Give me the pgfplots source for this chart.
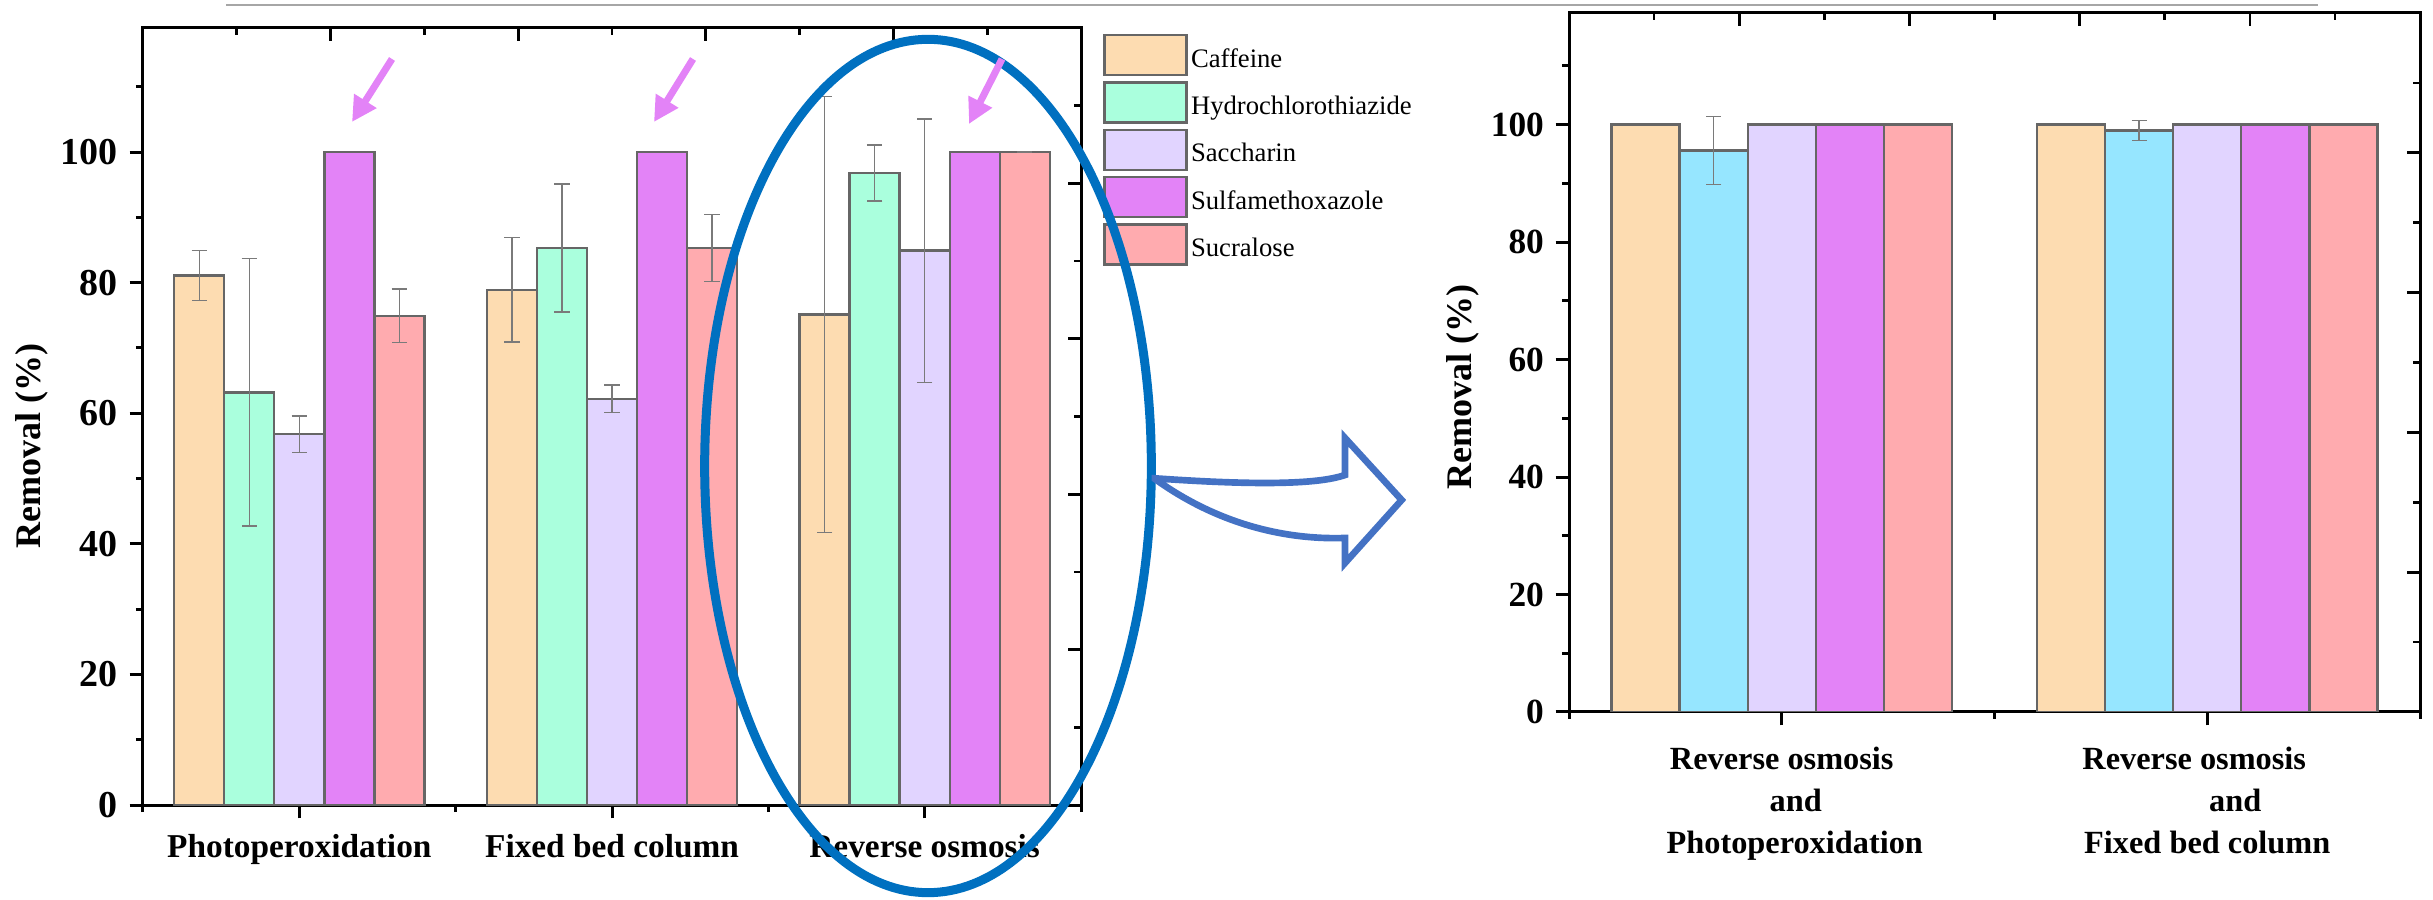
\documentclass[border=0pt]{standalone}
\usepackage{pgfplots}
\pgfplotsset{compat=1.18}
\usepackage{pgfplotstable}
\usepackage{fontspec}
\setmainfont{Liberation Serif}
\usetikzlibrary{arrows.meta}
\definecolor{caf}{HTML}{FDDCB1}
\definecolor{hct}{HTML}{AAFFDD}
\definecolor{hctb}{HTML}{96E6FF}
\definecolor{sac}{HTML}{E1D4FF}
\definecolor{sul}{HTML}{E383F7}
\definecolor{suc}{HTML}{FFABAF}
\definecolor{edge}{HTML}{666666}
\definecolor{errc}{HTML}{7A7A7A}
\definecolor{ellc}{HTML}{0070C0}
\definecolor{arrc}{HTML}{4472C4}
\definecolor{pinkarr}{HTML}{E383F7}

% left chart data: x, removal, error
\pgfplotstableread{
x y e
0 81.1 3.8
1 78.9 8.0
2 75.1 33.4
}\lcaf
\pgfplotstableread{
x y e
0 63.2 20.5
1 85.3 9.8
2 96.8 4.3
}\lhct
\pgfplotstableread{
x y e
0 56.8 2.8
1 62.2 2.1
2 84.9 20.2
}\lsac
\pgfplotstableread{
x y e
0 100 0
1 100 0
2 100 0
}\lsul
\pgfplotstableread{
x y e
0 74.9 4.1
1 85.3 5.1
2 100 0
}\lsuc
% right chart data
\pgfplotstableread{
x y e
0 100 0
1 100 0
}\rcaf
\pgfplotstableread{
x y e
0 95.6 5.8
1 99.0 1.7
}\rhct
\pgfplotstableread{
x y e
0 100 0
1 100 0
}\rsac
\pgfplotstableread{
x y e
0 100 0
1 100 0
}\rsul
\pgfplotstableread{
x y e
0 100 0
1 100 0
}\rsuc

\pgfplotsset{
  ybar legend/.style={legend image code/.code={\draw[##1] (0pt,-4.4pt) rectangle (24.6pt,7.6pt);}},
  barchart/.style={
    scale only axis, ybar, bar width=0.16, ymin=0, ymax=119,
    axis line style={line width=0.9pt, black},
    tick style={black, line width=0.9pt},
    tick align=outside, xtick pos=left, ytick pos=left,
    major tick length=4pt, minor tick length=2.1pt,
    ytick={0,20,...,100}, minor ytick={10,30,...,110},
    /pgf/number format/assume math mode=true,
    yticklabel style={font=\fontsize{11.4}{12}\selectfont\bfseries},
    xticklabel style={font=\fontsize{10}{12.6}\selectfont\bfseries, align=center},
    ylabel={Removal (\%)},
    ylabel style={font=\fontsize{10.8}{12}\selectfont\bfseries, anchor=center},
    every axis plot/.append style={draw=edge, line width=0.7pt},
  },
  errs/.style={error bars/.cd, y dir=both, y explicit,
    error bar style={line width=0.45pt, errc},
    error mark options={rotate=90, mark size=2.3pt, line width=0.45pt, errc}},
  overlayticks/.style={scale only axis, xmin=0, xmax=1, ymin=0, ymax=1,
    axis line style={draw=none}, xtick pos=right, ytick pos=right, tick align=inside,
    xtick={0.2,0.4,0.6,0.8}, minor xtick={0.1,0.3,0.5,0.7,0.9},
    ytick={0.2,0.4,0.6,0.8}, minor ytick={0.1,0.3,0.5,0.7,0.9},
    xticklabels={}, yticklabels={},
    major tick length=4pt, minor tick length=2pt,
    tick style={black, line width=0.8pt}},
}

\begin{document}
\begin{tikzpicture}
\path[use as bounding box] (0pt,0pt) rectangle (729.9pt,270pt);

% thin gray rule at the top
\draw[line width=0.6pt, color=black!35] (67.8pt,268.5pt) -- (695.4pt,268.5pt);

% ---------- left chart ----------
\begin{axis}[barchart,
  at={(42.9pt,28.5pt)}, anchor=south west, width=281.4pt, height=233.1pt,
  xmin=-0.5, xmax=2.5,
  xtick={0,1,2}, minor xtick={-0.5,0.5,1.5,2.5},
  xticklabels={Photoperoxidation, Fixed bed column, Reverse osmosis},
  xticklabel style={yshift=-1.2pt},
  ylabel style={at={(axis description cs:-0.118,0.462)}},
  legend style={at={(axis description cs:1,1)}, anchor=north west, xshift=6.5pt, yshift=-1.6pt,
    draw=none, fill=none, inner sep=0pt, row sep=1.5pt,
    font=\fontsize{8}{9.6}\selectfont, nodes={inner sep=1pt}},
  legend cell align=left,
]
\addplot[fill=caf, bar shift=-0.32, errs] table[x=x, y=y, y error=e] {\lcaf};
\addlegendentry{Caffeine}
\addplot[fill=hct, bar shift=-0.16, errs] table[x=x, y=y, y error=e] {\lhct};
\addlegendentry{Hydrochlorothiazide}
\addplot[fill=sac, bar shift=0, errs] table[x=x, y=y, y error=e] {\lsac};
\addlegendentry{Saccharin}
\addplot[fill=sul, bar shift=0.16] table[x=x, y=y] {\lsul};
\addlegendentry{Sulfamethoxazole}
\addplot[fill=suc, bar shift=0.32, errs] table[x=x, y=y, y error=e] {\lsuc};
\addlegendentry{Sucralose}
\end{axis}
\begin{axis}[overlayticks, at={(42.9pt,28.5pt)}, anchor=south west, width=281.4pt, height=233.1pt]
\end{axis}

% ---------- right chart ----------
\begin{axis}[barchart,
  at={(470.7pt,56.4pt)}, anchor=south west, width=255.3pt, height=209.7pt,
  xmin=-0.5, xmax=1.5,
  xtick={0,1}, minor xtick={-0.5,0.5,1.5},
  xticklabels={{Reverse osmosis\\\hspace*{8.4pt}and\\\hspace*{7.8pt}Photoperoxidation},
               {Reverse osmosis\hspace*{7.8pt}\\\hspace*{16.8pt}and\\Fixed bed column}},
  xticklabel style={font=\fontsize{9.7}{12.6}\selectfont\bfseries, yshift=-3pt},
  yticklabel style={font=\fontsize{10.6}{12}\selectfont\bfseries},
  ylabel style={at={(axis description cs:-0.1246,0.465)}},
]
\addplot[fill=caf, bar shift=-0.32] table[x=x, y=y] {\rcaf};
\addplot[fill=hctb, bar shift=-0.16, errs] table[x=x, y=y, y error=e] {\rhct};
\addplot[fill=sac, bar shift=0] table[x=x, y=y] {\rsac};
\addplot[fill=sul, bar shift=0.16] table[x=x, y=y] {\rsul};
\addplot[fill=suc, bar shift=0.32] table[x=x, y=y] {\rsuc};
\end{axis}
\begin{axis}[overlayticks, at={(470.7pt,56.4pt)}, anchor=south west, width=255.3pt, height=209.7pt]
\end{axis}

% ---------- annotations ----------
\draw[ellc, line width=2.7pt] (278.4pt,130.2pt) ellipse [x radius=67pt, y radius=128pt];

\draw[arrc, line width=2pt, line join=miter, fill=white]
  (346.5pt,126.5pt) .. controls (375pt,124.5pt) and (395pt,124.5pt) .. (403.5pt,127.5pt)
  -- (403.5pt,138.6pt) -- (420.5pt,120pt) -- (403.5pt,101.1pt) -- (403.5pt,108.6pt)
  .. controls (385pt,108pt) and (365pt,113pt) .. (346.5pt,126.3pt) -- cycle;

\foreach \tx/\ty/\hx/\hy in {117.6/252.3/105.6/233.4, 207.9/252.3/196.2/233.4, 300.6/252.3/290.7/232.8}
  \draw[pinkarr, line width=2.1pt, -{Triangle[length=7.5pt, width=7.5pt]}] (\tx pt,\ty pt) -- (\hx pt,\hy pt);
\end{tikzpicture}
\end{document}
